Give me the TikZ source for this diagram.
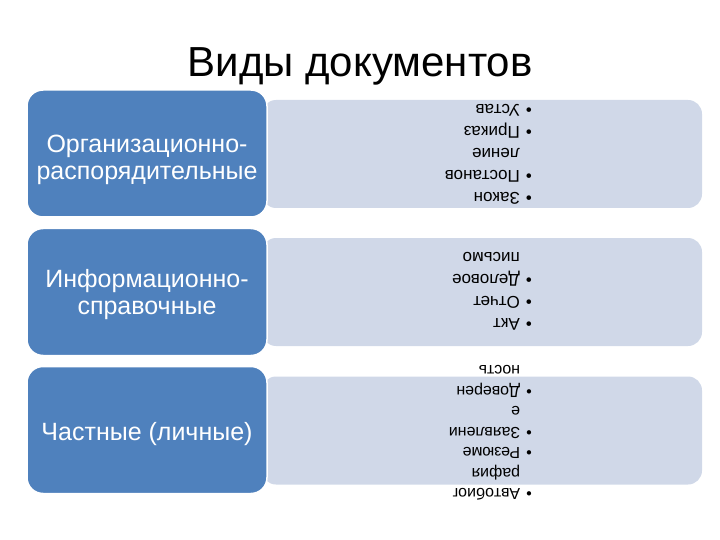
\documentclass[tikz,border=0pt]{standalone}
\usepackage{fontspec}
\setmainfont{Liberation Sans}
\definecolor{darkblue}{HTML}{4F81BD}
\definecolor{lightblue}{HTML}{D0D8E8}
\begin{document}
\begin{tikzpicture}[x=1pt,y=-1pt,
  catbox/.style={draw=white,line width=1.5pt,fill=darkblue,rounded corners=16pt,
    minimum width=240pt,minimum height=127pt,inner sep=0pt},
  cattext/.style={anchor=base,inner sep=0pt,text=white,align=center,
    font=\fontsize{25}{27}\selectfont},
  listbox/.style={fill=lightblue,rounded corners=14pt,minimum width=440pt,
    minimum height=108pt,inner sep=0pt},
  listtext/.style={rotate=180,anchor=west,inner sep=0pt,text=black}]
\useasboundingbox (0,0) rectangle (720,540);
\node[anchor=base,font=\fontsize{42}{50}\selectfont] (title) at (360,77) {Виды документов};
% row 1
\node[listbox] (l1) at (482,154) {};
\node[catbox] (c1) at (147,153.5) {};
\node[cattext] (n1) at (147,180) {Организационно-\\распорядительные};
\node[listtext] (t1) at (532,153) {\fontsize{17}{22}\selectfont
  \begin{tabular}{@{}l@{\hspace{6pt}}l@{}}
  • & Закон\\ • & Постанов\\ & ление\\ • & Приказ\\ • & Устав
  \end{tabular}};
% row 2
\node[listbox] (l2) at (482,292) {};
\node[catbox] (c2) at (147,292) {};
\node[cattext] (n2) at (147,314) {Информационно-\\справочные};
\node[listtext] (t2) at (532,290) {\fontsize{17}{22}\selectfont
  \begin{tabular}{@{}l@{\hspace{6pt}}l@{}}
  • & Акт\\ • & Отчет\\ • & Деловое\\ & письмо
  \end{tabular}};
% row 3
\node[listbox] (l3) at (482,430.5) {};
\node[catbox] (c3) at (147,430) {};
\node[cattext] (n3) at (147,440) {Частные (личные)};
\node[listtext] (t3) at (532,431.5) {\fontsize{16}{20.5}\selectfont
  \begin{tabular}{@{}l@{\hspace{6pt}}l@{}}
  • & Автобиог\\ & рафия\\ • & Резюме\\ • & Заявлени\\ & е\\ • & Доверен\\ & ность
  \end{tabular}};
\end{tikzpicture}
\end{document}
